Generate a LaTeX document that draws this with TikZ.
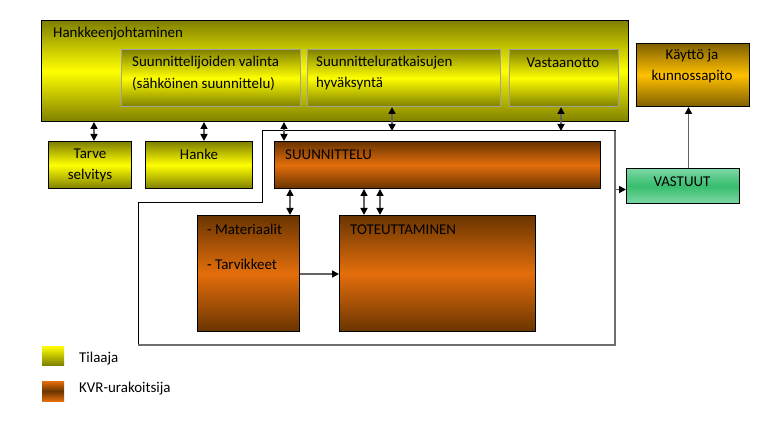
\documentclass[tikz,border=0pt]{standalone}
\usepackage{fontspec}
\setmainfont{Carlito}
\usetikzlibrary{arrows.meta,calc}
\definecolor{olv}{RGB}{128,128,0}
\definecolor{ylw}{RGB}{255,255,0}
\definecolor{brn}{RGB}{105,52,0}
\definecolor{org}{RGB}{228,110,12}
\definecolor{gbr}{RGB}{128,96,0}
\definecolor{gld}{RGB}{255,192,0}
\definecolor{lgrn}{RGB}{125,215,165}
\definecolor{dgrn}{RGB}{55,190,110}
\definecolor{shaft}{RGB}{100,100,100}
\begin{document}
\begin{tikzpicture}[x=1bp,y=-1bp,
  font=\fontsize{15}{18}\selectfont,
  box/.style={draw=black, line width=1bp, inner sep=0pt, anchor=north west},
  yb/.style={box, top color=olv, bottom color=olv, middle color=ylw},
  inb/.style={yb, draw={rgb,255:red,160;green,160;blue,160}},
  ob/.style={box, top color=brn, bottom color=brn, middle color=org},
  tx/.style={inner sep=0pt, anchor=west},
  tc/.style={inner sep=0pt, anchor=center},
  dbl/.style={{Triangle[width=7bp,length=7bp,color=black]}-{Triangle[width=7bp,length=7bp,color=black]}, draw=shaft, line width=1.6bp},
  sgl/.style={-{Triangle[width=7bp,length=7bp,color=black]}, draw=shaft, line width=1.6bp}]
\useasboundingbox (0,0) rectangle (768,439);

% outline region
\coordinate (o1) at (262,131);
\coordinate (o2) at (615,131);
\coordinate (o3) at (615,345);
\coordinate (o4) at (138,345);
\coordinate (o5) at (138,203);
\coordinate (o6) at (262,203);
\draw[line width=1bp] (o1) -- (o2) -- (o3) -- (o4) -- (o5) -- (o6) -- cycle;
\draw[line width=1.5bp, draw={rgb,255:red,110;green,110;blue,110}] (o2) -- (o3) -- (o4);

% boxes
\node[yb, minimum width=587bp, minimum height=101bp] (hj) at (41,20) {};
\node[inb, minimum width=179bp, minimum height=57bp] (sv) at (121,49) {};
\node[inb, minimum width=193bp, minimum height=57bp] (sh) at (307,49) {};
\node[inb, minimum width=109bp, minimum height=57bp] (va) at (509,49) {};
\node[box, top color=gbr, bottom color=gbr, middle color=gld, minimum width=113bp, minimum height=63bp] (kk) at (636,43) {};
\node[yb, minimum width=83bp, minimum height=47bp] (tarve) at (48,141) {};
\node[yb, minimum width=107bp, minimum height=47bp] (hanke) at (145,141) {};
\node[ob, minimum width=326bp, minimum height=47bp] (suun) at (274,141) {};
\node[box, top color=lgrn, bottom color=lgrn, middle color=dgrn, minimum width=113bp, minimum height=35bp] (vast) at (626,168) {};
\node[ob, minimum width=102bp, minimum height=116bp] (mat) at (197,215) {};
\node[ob, minimum width=196bp, minimum height=116bp] (tot) at (339,215) {};
\node[inner sep=0pt, anchor=north west, top color=ylw, bottom color=olv, minimum width=22bp, minimum height=19bp] (leg1) at (42,346) {};
\node[inner sep=0pt, anchor=north west, top color=org, bottom color=org, middle color=brn, minimum width=22bp, minimum height=20bp] (leg2) at (42,381) {};

% texts
\node[tx] (thj) at (53,34) {Hankkeenjohtaminen};
\node[tx] (tsv1) at (132,63) {Suunnittelijoiden valinta};
\node[tx] (tsv2) at (132,84) {(sähköinen suunnittelu)};
\node[tx] (tsh1) at (316,63) {Suunnitteluratkaisujen};
\node[tx] (tsh2) at (316,84) {hyväksyntä};
\node[tc] (tva) at (563,63) {Vastaanotto};
\node[tc] (tkk1) at (692,56) {Käyttö ja};
\node[tc] (tkk2) at (692,77) {kunnossapito};
\node[tc] (tta1) at (90,154) {Tarve};
\node[tc] (tta2) at (90,176) {selvitys};
\node[tc] (tha) at (199,154) {Hanke};
\node[tx] (tsu) at (285,155) {SUUNNITTELU};
\node[tc] (tvs) at (682,182) {VASTUUT};
\node[tx] (tm1) at (207,229) {- Materiaalit};
\node[tx] (tm2) at (207,264) {- Tarvikkeet};
\node[tx] (tto) at (350,230) {TOTEUTTAMINEN};
\node[tx] (tl1) at (79,359) {Tilaaja};
\node[tx] (tl2) at (79,389) {KVR-urakoitsija};

% connectors
\coordinate (a1) at ($(tarve.north west)+(46,0)$);
\draw[dbl] (a1 |- hj.south) -- (a1);
\coordinate (a2) at ($(hanke.north west)+(59,0)$);
\draw[dbl] (a2 |- hj.south) -- (a2);
\coordinate (a3) at ($(suun.north west)+(10,0)$);
\draw[dbl] (a3 |- hj.south) -- (a3);
\coordinate (a4) at ($(sh.south west)+(85,0)$);
\draw[dbl] (a4) -- (a4 |- o1);
\coordinate (a5) at ($(va.south west)+(52,0)$);
\draw[dbl] (a5) -- (a5 |- o1);
\coordinate (a6) at ($(mat.north west)+(93,0)$);
\draw[dbl] (a6 |- suun.south) -- (a6);
\coordinate (a7) at ($(tot.north west)+(25,0)$);
\draw[dbl] (a7 |- suun.south) -- (a7);
\coordinate (a8) at ($(tot.north west)+(41,0)$);
\draw[dbl] (a8 |- suun.south) -- (a8);
\coordinate (a9) at ($(mat.north east)+(0,59)$);
\draw[sgl] (a9) -- (a9 -| tot.west);
\coordinate (a10) at ($(vast.west)+(0,3.5)$);
\draw[sgl] (a10 -| o2) -- (a10);
\coordinate (a11) at ($(vast.north)+(5.5,0)$);
\draw[sgl] (a11) -- (a11 |- kk.south);
\end{tikzpicture}
\end{document}
